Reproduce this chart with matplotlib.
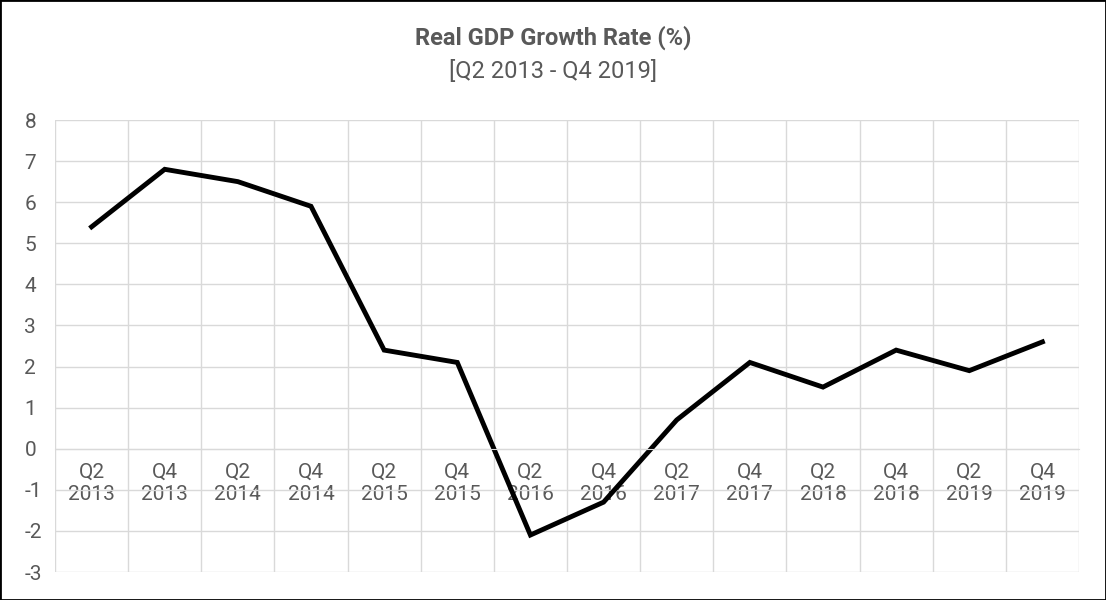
import matplotlib
matplotlib.use('Agg')
import numpy as np
import matplotlib.pyplot as plt

plt.rcParams['font.family'] = ['Roboto', 'DejaVu Sans']
plt.rcParams['axes.unicode_minus'] = False

quarters = ['Q2', 'Q4'] * 7
years = ['2013', '2013', '2014', '2014', '2015', '2015', '2016', '2016',
         '2017', '2017', '2018', '2018', '2019', '2019']
growth = [5.4, 6.8, 6.5, 5.9, 2.4, 2.1, -2.1, -1.3, 0.7, 2.1, 1.5, 2.4, 1.9, 2.6]

fig = plt.figure(figsize=(11.06, 6), dpi=100)
ax = fig.add_axes([55/1106, 28/600, 1024/1106, 452/600])

x = np.arange(len(growth))
ax.plot(x, growth, color='black', lw=3.5, solid_joinstyle='miter')

ax.set_xlim(-0.5, len(growth) - 0.5)
ax.set_ylim(-3, 8)
ax.set_yticks(range(-3, 9))
ax.set_xticks(x)
ax.set_xticklabels([f'{q}\n{y}' for q, y in zip(quarters, years)], linespacing=1.5)
ax.set_xticks(np.arange(-0.5, len(growth)), minor=True)

ax.grid(True, which='major', axis='y', color='#d9d9d9', lw=1)
ax.grid(True, which='minor', axis='x', color='#d9d9d9', lw=1)
ax.set_axisbelow(True)
for s in ['top', 'right', 'left']:
    ax.spines[s].set_visible(False)
ax.spines['bottom'].set_position(('data', 0))
ax.spines['bottom'].set_color('#d9d9d9')
ax.tick_params(axis='both', which='both', length=0, labelsize=15, colors='#595959')
ax.tick_params(axis='x', pad=10)
ax.tick_params(axis='y', pad=22)
for lab in ax.get_yticklabels():
    lab.set_horizontalalignment('left')

fig.text(0.5, 1 - 38/600, 'Real GDP Growth Rate (%)', ha='center', va='center',
         fontsize=17, fontweight='bold', color='#595959')
fig.text(0.5, 1 - 72/600, '[Q2 2013 - Q4 2019]', ha='center', va='center',
         fontsize=17, color='#595959')

fig.patches.append(plt.Rectangle((0, 0), 1, 1, transform=fig.transFigure,
                                 fill=False, edgecolor='black', lw=2))

fig.savefig('out.png', dpi=100)
